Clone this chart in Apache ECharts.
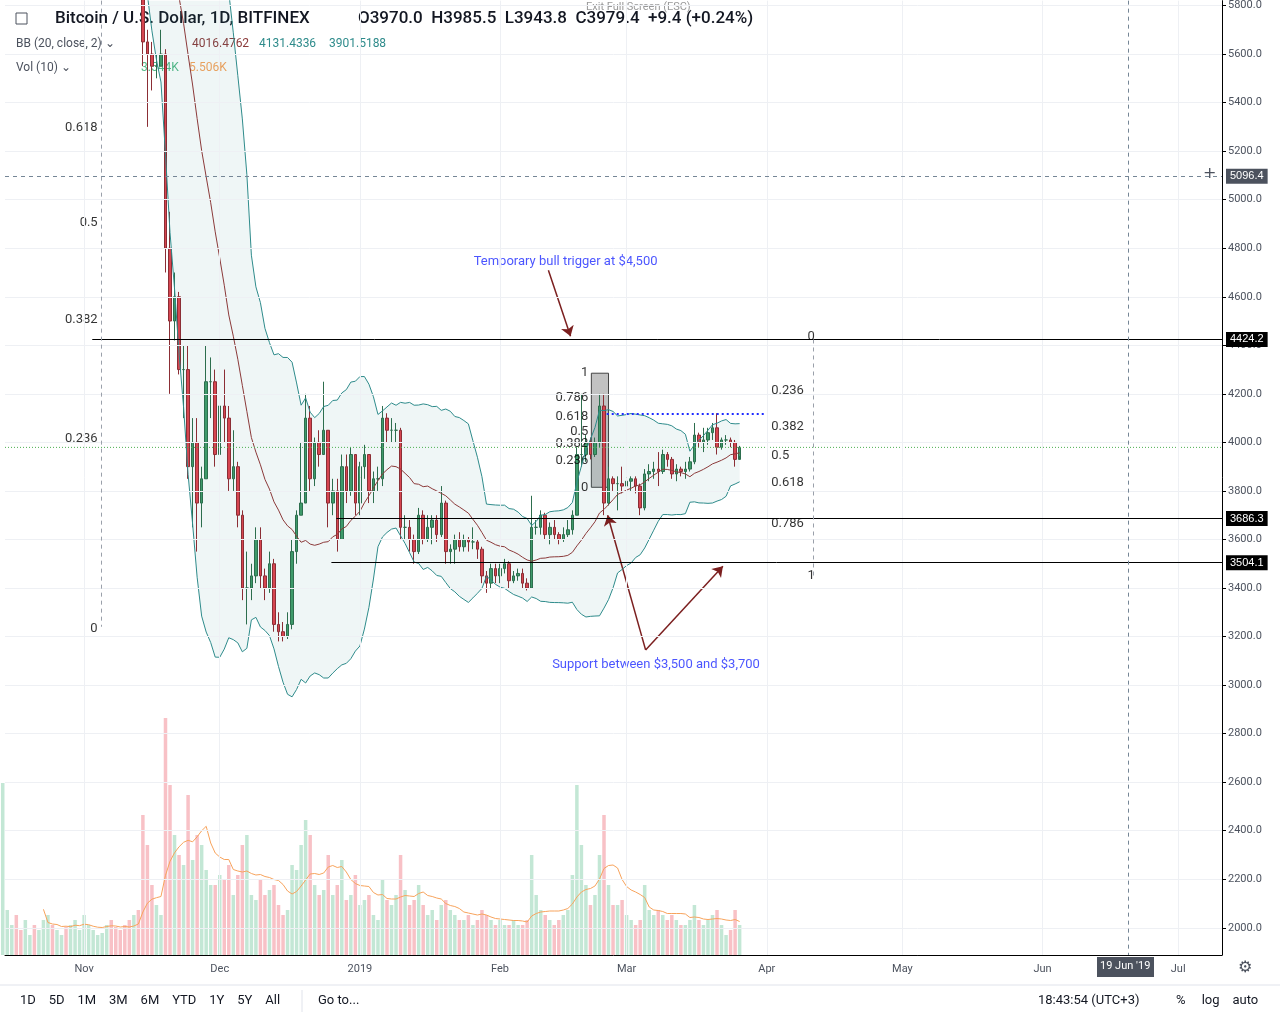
<!DOCTYPE html>
<html><head><meta charset="utf-8">
<script src="https://cdn.jsdelivr.net/npm/echarts@6/dist/echarts.min.js"></script>
<style>html,body{margin:0;padding:0;background:#fff}#c{width:1280px;height:1024px}</style>
</head><body><div id="c"></div>
<script>
var DAY = 86400000;
var T0 = Date.UTC(2018, 10, 1);
function day(d){ return T0 + d * DAY; }
var XMIN = day(-17.5), XMAX = day(251.7);

// Oct 14 - Nov 13 closes (off the top of the chart)
var earlyCloses = [6300,6450,6460,6450,6400,6410,6420,6400,6410,6420,6430,6400,6410,6420,6330,6350,6380,6400,6420,6430,6450,6480,6500,6520,6480,6420,6380,6350,6320,6330,6300];
// Nov 14 - Mar 26: [close, low, high], open = previous close
var candles = [
[5650,5550,6350],[5600,5300,5700],[5550,5450,5650],[5550,5500,5600],[5600,5550,5700],[4800,4700,5620],[4500,4200,4950],[4600,4420,4700],[4300,4280,4620],[4300,4100,4400],[3900,3850,4400],[4000,3650,4100],[3750,3550,4100],[3850,3650,3900],[4250,3850,4400],[4250,4100,4350],[3950,3900,4300],
[4150,3950,4250],[4100,4000,4300],[3850,3800,4150],[3900,3800,4050],[3700,3650,3920],[3400,3350,3720],[3400,3250,3550],[3450,3350,3500],[3600,3420,3650],[3450,3400,3650],[3400,3350,3480],[3500,3380,3550],[3250,3220,3520],[3220,3180,3300],[3200,3180,3260],[3250,3190,3300],[3550,3230,3600],[3700,3500,3720],[3750,3700,4000],[4100,3750,4200],[3850,3800,4150],[4000,3820,4020],[3950,3900,4050],[4050,3950,4250],[3750,3650,4050],[3800,3700,3850],[3600,3550,3850],[3900,3600,3950],[3800,3750,3950],[3950,3780,3980],[3750,3700,3950],
[3900,3700,3920],[3950,3850,3990],[3800,3750,3950],[3850,3750,3880],[3850,3800,3900],[4100,3820,4150],[4050,4000,4120],[4050,4000,4100],[4050,4000,4080],[3650,3600,4060],[3650,3600,3700],[3600,3550,3680],[3550,3500,3620],[3700,3540,3730],[3600,3580,3720],[3650,3590,3700],[3680,3580,3700],[3620,3590,3700],[3750,3610,3820],[3550,3500,3760],[3560,3500,3580],[3600,3500,3620],[3570,3550,3630],[3600,3550,3620],[3590,3550,3610],[3590,3560,3650],[3560,3520,3600],[3450,3420,3570],[3420,3380,3470],[3480,3400,3500],[3450,3420,3500],
[3480,3420,3500],[3500,3460,3520],[3430,3400,3510],[3450,3420,3470],[3460,3430,3480],[3420,3400,3480],[3400,3390,3440],[3650,3400,3780],[3650,3620,3680],[3700,3620,3720],[3620,3600,3710],[3650,3580,3670],[3620,3600,3680],[3600,3580,3630],[3620,3590,3650],[3640,3610,3680],[3700,3620,3720],[3950,3700,3980],[3950,3900,4200],[4000,3920,4030],[3950,3930,4020],[4000,3940,4020],[4150,3980,4200],[3750,3700,4200],[3850,3740,3900],[3830,3800,3860],[3830,3720,3860],[3820,3790,3900],
[3840,3810,3870],[3850,3800,3860],[3820,3790,3860],[3730,3700,3830],[3870,3720,3890],[3880,3840,3910],[3890,3850,3920],[3880,3820,3960],[3950,3870,3970],[3930,3900,3960],[3870,3850,3940],[3890,3840,3910],[3880,3860,3900],[3890,3850,3920],[3920,3880,3940],[4030,3910,4080],[4000,3980,4040],[4010,3960,4060],[4040,3990,4060],[4060,4010,4080],[3980,3950,4120],[4010,3970,4020],[4010,3990,4030],[4000,3980,4020],[3930,3900,4010],[3979.4,3943.8,3985.5]
];
var volumes = [172,45,30,40,25,35,20,30,25,35,40,30,25,20,28,30,35,25,40,30,25,20,22,30,35,28,25,30,35,40,45,
140,110,70,50,40,237,170,120,100,90,160,95,120,110,85,70,70,
80,75,90,60,80,110,120,60,55,75,60,65,70,50,40,45,90,85,110,135,120,70,60,65,100,60,70,95,55,60,80,
50,55,60,40,35,75,55,50,60,100,65,50,55,70,50,40,45,35,50,55,45,40,35,35,40,30,35,45,40,35,30,
35,30,30,35,30,30,35,100,60,45,40,35,30,35,40,45,80,170,110,70,50,60,100,140,70,50,50,55,
40,35,30,35,70,45,40,45,40,35,40,35,30,30,35,50,35,30,35,40,45,30,20,25,45,30];
var priceTicks = [2000,2200,2400,2600,2800,3000,3200,3400,3600,3800,4000,4200,4400,4600,4800,5000,5200,5400,5600,5800];
var monthStarts = [Date.UTC(2018,10,1),Date.UTC(2018,11,1),Date.UTC(2019,0,1),Date.UTC(2019,1,1),Date.UTC(2019,2,1),Date.UTC(2019,3,1),Date.UTC(2019,4,1),Date.UTC(2019,5,1),Date.UTC(2019,6,1)];
var monthNames = ['Nov','Dec','2019','Feb','Mar','Apr','May','Jun','Jul'];
var leftFib = [['0.618',5298],['0.5',4903],['0.382',4507],['0.236',4017],['0',3231]];
var rightFib = [['0.236',4211],['0.382',4063],['0.5',3947],['0.618',3832],['0.786',3663]];
var smallFib = [['1',4285],['0.786',4185],['0.618',4107],['0.5',4045],['0.382',3996],['0.236',3926],['0',3815]];

// build OHLC
var ohlc = [], closes = [], prev = 6300;
earlyCloses.forEach(function(c, i){
    var o = i == 0 ? 6290 : earlyCloses[i-1];
    ohlc.push([day(i-18), o, c, Math.min(o,c)-30, Math.max(o,c)+30]);
    closes.push(c);
});
candles.forEach(function(r, i){
    ohlc.push([day(i+13), prev, r[0], r[1], r[2]]);
    closes.push(r[0]);
    prev = r[0];
});
var volData = ohlc.map(function(k, i){
    var up = k[2] >= k[1];
    return {value:[k[0], volumes[i] || 0], itemStyle:{color: up ? 'rgba(83,185,135,0.35)' : 'rgba(235,77,92,0.35)'}};
});
var volMa = [];
for (var i = 9; i < volumes.length; i++){
    var s = 0; for (var j = i-9; j <= i; j++) s += volumes[j];
    volMa.push([ohlc[i][0], s/10]);
}
var basis = [], upper = [], lower = [];
for (var i = 19; i < closes.length; i++){
    var m = 0; for (var j = i-19; j <= i; j++) m += closes[j]; m /= 20;
    var v = 0; for (var j = i-19; j <= i; j++) v += (closes[j]-m)*(closes[j]-m);
    var sd = Math.sqrt(v/20);
    basis.push([ohlc[i][0], m]); upper.push([ohlc[i][0], m+2*sd]); lower.push([ohlc[i][0], m-2*sd]);
}

var chart = echarts.init(document.getElementById('c'));
function hline(y, x0, label, bg, dashed){
    return [{coord:[x0, y], symbol:'none', lineStyle: dashed ? {type:[4,4], color:'#758696'} : {color:'#000'}},
        {coord:[XMAX, y], symbol:'none',
        label:{show:!!label, position:'end', formatter:label || '', color:'#fff', backgroundColor:bg, padding:[2,4], fontSize:11, distance:4}}];
}
function fibScatter(list, d){ return list.map(function(f){ return {value:[d, f[1]], name:f[0]}; }); }

chart.setOption({
    animation:false,
    grid:[{left:5, right:58, top:0, bottom:69}, {left:5, right:58, top:700, bottom:69}],
    xAxis:[
        {type:'value', min:XMIN, max:XMAX, gridIndex:0,
         axisLine:{show:true, onZero:false, lineStyle:{color:'#000'}}, axisTick:{show:false},
         axisLabel:{show:true, customValues:monthStarts, formatter:function(v){ var k = monthStarts.indexOf(v); return k < 0 ? '' : monthNames[k]; }, color:'#4c525e', fontSize:11, margin:9, fontFamily:'Roboto'},
         splitLine:{show:false}},
        {type:'value', min:XMIN, max:XMAX, gridIndex:1, show:false}
    ],
    yAxis:[
        {type:'value', position:'right', min:1888, max:5820, gridIndex:0,
         axisLine:{show:true, lineStyle:{color:'#000'}},
         axisTick:{show:true, customValues:priceTicks, length:4, lineStyle:{color:'#000'}},
         axisLabel:{customValues:priceTicks, formatter:function(v){ return v.toFixed(1); }, color:'#4c525e', fontSize:11, margin:6, fontFamily:'Roboto'},
         splitLine:{show:false}},
        {type:'value', gridIndex:1, min:0, max:255, show:false}
    ],
    series:[
        // grid lines drawn as markLines on an empty series
        {type:'line', data:[], markLine:{silent:true, symbol:'none', label:{show:false}, lineStyle:{color:'#eef0f4', type:'solid', width:1},
            data: priceTicks.map(function(p){ return {yAxis:p}; }).concat(monthStarts.map(function(t){ return {xAxis:t}; }))}},
        {type:'bar', xAxisIndex:1, yAxisIndex:1, data:volData, barWidth:3.5},
        {type:'line', xAxisIndex:1, yAxisIndex:1, data:volMa, symbol:'none', lineStyle:{color:'#f7a35c', width:1}},
        // band fill between upper and lower
        {type:'custom', data:[[0]], clip:true, silent:true,
         renderItem:function(params, api){
            var pts = upper.map(function(p){ return api.coord(p); });
            for (var k = lower.length-1; k >= 0; k--) pts.push(api.coord(lower[k]));
            return {type:'polygon', shape:{points:pts}, style:{fill:'rgba(46,139,139,0.08)'}};
         }},
        {type:'line', data:upper, symbol:'none', lineStyle:{color:'#2e8b8b', width:1}},
        {type:'line', data:lower, symbol:'none', lineStyle:{color:'#2e8b8b', width:1}},
        {type:'line', data:basis, symbol:'none', lineStyle:{color:'#8b3a3a', width:1}},
        {type:'candlestick', data:ohlc.map(function(k){ return [k[0], k[1], k[2], k[3], k[4]]; }),
         encode:{x:0, y:[1,2,3,4]}, barWidth:3, clip:true,
         itemStyle:{color:'#3e9a6a', color0:'#d64550', borderColor:'#2d6e4e', borderColor0:'#8b2e35'},
         markLine:{silent:true, symbol:'none', lineStyle:{color:'#000', width:1, type:'solid'},
            data:[
                hline(4424.2, day(1.8), '4424.2', '#000'),
                hline(3686.3, day(55.8), '3686.3', '#000'),
                hline(3504.1, day(54.7), '3504.1', '#000'),
                hline(5096.4, XMIN, '5096.4', '#4c525e', true),
                [{coord:[day(115.6), 4120], symbol:'none', lineStyle:{color:'#1e2bff', type:[2,3], width:2}}, {coord:[day(150.7), 4120], symbol:'none'}],
                [{coord:[day(3.9), 5820], symbol:'none', lineStyle:{color:'#9aa0aa', type:[4,4]}}, {coord:[day(3.9), 3240], symbol:'none'}],
                [{coord:[day(161.3), 4424], symbol:'none', lineStyle:{color:'#9aa0aa', type:[4,4]}}, {coord:[day(161.3), 3440], symbol:'none'}],
                [{coord:[day(230.9), 5820], symbol:'none', lineStyle:{color:'#758696', type:[4,4]}}, {coord:[day(230.9), 1888], symbol:'none'}]
            ]},
         markArea:{silent:true, itemStyle:{color:'rgba(120,120,120,0.45)', borderColor:'#444', borderWidth:1},
            data:[[{coord:[day(112.2), 4285]}, {coord:[day(116.0), 3815]}]]}
        },
        // last price line
        {type:'line', data:[[XMIN,3979.4],[XMAX,3979.4]], symbol:'none', lineStyle:{color:'#4caf50', type:[1,2], width:1},
         markLine:{silent:true, symbol:'none', lineStyle:{opacity:0}, data:[[{coord:[day(250),3979.4]},{coord:[XMAX,3979.4],
            label:{show:true, position:'end', formatter:'3979.4', color:'#fff', backgroundColor:'#4caf50', padding:[2,4], fontSize:11, distance:4}}]]}},
        {type:'lines', coordinateSystem:'cartesian2d', symbol:['none','arrow'], symbolSize:10,
         lineStyle:{color:'#7b1f1f', width:1.5, opacity:1},
         data:[
            {coords:[[day(102.7),4709],[day(107.6),4437]]},
            {coords:[[day(124.2),3145],[day(115.8),3700]]},
            {coords:[[day(124.2),3145],[day(141.3),3490]]}
         ]},
        {type:'scatter', symbolSize:0, data:fibScatter(leftFib, day(3)),
         label:{show:true, position:'left', formatter:'{b}', color:'#000', fontSize:13, fontFamily:'Roboto', distance:0}},
        {type:'scatter', symbolSize:0, data:fibScatter(rightFib, day(152)),
         label:{show:true, position:'right', formatter:'{b}', color:'#000', fontSize:13, fontFamily:'Roboto', distance:0}},
        {type:'scatter', symbolSize:0, data:[{value:[day(160), 4437], name:'0'}, {value:[day(160), 3449], name:'1'}],
         label:{show:true, position:'right', formatter:'{b}', color:'#000', fontSize:13, fontFamily:'Roboto', distance:0}},
        {type:'scatter', symbolSize:0, data:fibScatter(smallFib, day(111.5)),
         label:{show:true, position:'left', formatter:'{b}', color:'#000', fontSize:13, fontFamily:'Roboto', distance:0}},
        {type:'scatter', symbolSize:0, data:[{value:[day(106.5), 4743], name:'Temporary bull trigger at $4,500'}, {value:[day(126.5), 3085], name:'Support between $3,500 and $3,700'}],
         label:{show:true, position:'inside', formatter:'{b}', color:'#1e2bff', fontSize:13, fontFamily:'Roboto'}}
    ],
    graphic:[
        {type:'line', shape:{x1:0, y1:985, x2:1280, y2:985}, style:{stroke:'#e0e3eb'}},
        {type:'rect', shape:{x:1097, y:957, width:57, height:20}, style:{fill:'#4c525e'}},
        {type:'text', x:1100, y:961, style:{text:"19 Jun '19", fill:'#fff', font:'11px Roboto'}},
        {type:'text', x:1238, y:960, style:{text:'⚙', fill:'#4c525e', font:'16px DejaVu Sans'}},
        {type:'text', x:1203, y:166, style:{text:'+', fill:'#4c525e', font:'16px DejaVu Sans'}},
        {type:'rect', shape:{x:16, y:13, width:11, height:11}, style:{fill:'none', stroke:'#4c525e'}},
        {type:'text', x:55, y:10, style:{text:'Bitcoin / U.S. Dollar, 1D, BITFINEX', fill:'#131722', font:'500 17px Roboto'}},
        {type:'text', x:358, y:10, style:{text:'O3970.0  H3985.5  L3943.8  C3979.4  +9.4 (+0.24%)', fill:'#131722', font:'500 17px Roboto'}},
        {type:'text', x:586, y:2, style:{text:'Exit Full Screen (ESC)', fill:'#999', font:'11px Roboto'}},
        {type:'text', x:16, y:38, style:{text:'BB (20, close, 2) ⌄', fill:'#4c525e', font:'12px Roboto'}},
        {type:'text', x:192, y:38, style:{text:'4016.4762', fill:'#8b3a3a', font:'12px Roboto'}},
        {type:'text', x:259, y:38, style:{text:'4131.4336', fill:'#2e8b8b', font:'12px Roboto'}},
        {type:'text', x:329, y:38, style:{text:'3901.5188', fill:'#2e8b8b', font:'12px Roboto'}},
        {type:'text', x:16, y:62, style:{text:'Vol (10) ⌄', fill:'#4c525e', font:'12px Roboto'}},
        {type:'text', x:141, y:62, style:{text:'3.544K', fill:'#53b987', font:'12px Roboto'}},
        {type:'text', x:189, y:62, style:{text:'5.506K', fill:'#f7a35c', font:'12px Roboto'}},
        {type:'text', x:20, y:994, style:{text:'1D    5D    1M    3M    6M    YTD    1Y    5Y    All', fill:'#131722', font:'13px Roboto'}},
        {type:'line', shape:{x1:302, y1:990, x2:302, y2:1012}, style:{stroke:'#e0e3eb'}},
        {type:'text', x:318, y:994, style:{text:'Go to...', fill:'#131722', font:'13px Roboto'}},
        {type:'text', x:1038, y:994, style:{text:'18:43:54 (UTC+3)', fill:'#131722', font:'13px Roboto'}},
        {type:'text', x:1176, y:994, style:{text:'%     log    auto', fill:'#131722', font:'13px Roboto'}}
    ]
});
</script></body></html>
